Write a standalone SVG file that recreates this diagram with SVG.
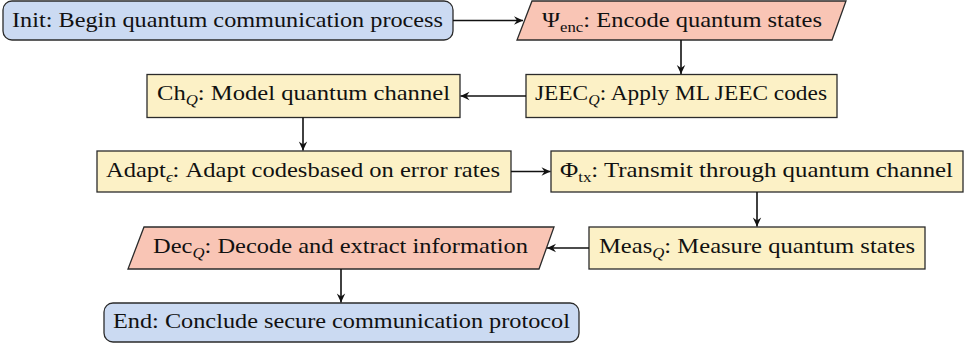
<svg xmlns="http://www.w3.org/2000/svg" width="967" height="347" viewBox="0 0 967 347">
<style>
.blue{fill:#cbdaf2;stroke:#2b2b2b;stroke-width:1.3}
.pink{fill:#f9c5b5;stroke:#2b2b2b;stroke-width:1.3}
.yel{fill:#fcf1c6;stroke:#2b2b2b;stroke-width:1.3}
text{font-family:'Liberation Serif','DejaVu Serif',serif;font-size:22px;fill:#111}
.sub{font-size:15px}
.it{font-style:italic}
.conn line{stroke:#111;stroke-width:1.6;marker-end:url(#arr)}
</style>
<defs>
<marker id="arr" markerWidth="12" markerHeight="10" viewBox="-10 -5 12 10" refX="0" refY="0" orient="auto" markerUnits="userSpaceOnUse">
<path d="M0,0 L-9,-4.2 L-6,0 L-9,4.2 Z" fill="#111"/>
</marker>
</defs>
<rect width="967" height="347" fill="#fff"/>
<g id="init">
<rect class="blue" x="3" y="1" width="450" height="39" rx="9"/>
<text font-family="Liberation Serif, serif" x="12" y="27" textLength="431" lengthAdjust="spacingAndGlyphs">Init: Begin quantum communication process</text>
</g>
<g id="psi">
<polygon class="pink" points="532,1 846,1 832,40 517,40"/>
<text font-family="Liberation Serif, serif" x="542" y="27" textLength="280" lengthAdjust="spacingAndGlyphs">Ψ<tspan class="sub" dy="5">enc</tspan><tspan dy="-5">: Encode quantum states</tspan></text>
</g>
<g id="jeec">
<rect class="yel" x="526" y="74.5" width="311" height="43"/>
<text font-family="Liberation Serif, serif" x="535" y="100" textLength="292" lengthAdjust="spacingAndGlyphs">JEEC<tspan class="sub it" dy="5">Q</tspan><tspan dy="-5">: Apply ML JEEC codes</tspan></text>
</g>
<g id="ch">
<rect class="yel" x="147" y="74.5" width="313" height="43"/>
<text font-family="Liberation Serif, serif" x="157" y="100" textLength="293" lengthAdjust="spacingAndGlyphs">Ch<tspan class="sub it" dy="5">Q</tspan><tspan dy="-5">: Model quantum channel</tspan></text>
</g>
<g id="adapt">
<rect class="yel" x="97" y="151" width="414" height="41"/>
<text font-family="Liberation Serif, serif" x="106" y="177" textLength="394" lengthAdjust="spacingAndGlyphs">Adapt<tspan class="sub it" dy="5">ϵ</tspan><tspan dy="-5">: Adapt codesbased on error rates</tspan></text>
</g>
<g id="phi">
<rect class="yel" x="551" y="151" width="412" height="41"/>
<text font-family="Liberation Serif, serif" x="560" y="177" textLength="393" lengthAdjust="spacingAndGlyphs">Φ<tspan class="sub" dy="5">tx</tspan><tspan dy="-5">: Transmit through quantum channel</tspan></text>
</g>
<g id="meas">
<rect class="yel" x="589" y="227" width="336" height="42"/>
<text font-family="Liberation Serif, serif" x="599" y="253" textLength="316" lengthAdjust="spacingAndGlyphs">Meas<tspan class="sub it" dy="5">Q</tspan><tspan dy="-5">: Measure quantum states</tspan></text>
</g>
<g id="dec">
<polygon class="pink" points="144,227 554,227 539,269 128,269"/>
<text font-family="Liberation Serif, serif" x="153" y="253" textLength="375" lengthAdjust="spacingAndGlyphs">Dec<tspan class="sub it" dy="5">Q</tspan><tspan dy="-5">: Decode and extract information</tspan></text>
</g>
<g id="end">
<rect class="blue" x="104" y="303" width="475" height="39" rx="9"/>
<text font-family="Liberation Serif, serif" x="113" y="328" textLength="457" lengthAdjust="spacingAndGlyphs">End: Conclude secure communication protocol</text>
</g>
<g id="connectors" class="conn">
<line x1="453" y1="20.5" x2="523" y2="20.5"/>
<line x1="681" y1="40" x2="681" y2="74"/>
<line x1="526" y1="96" x2="460.5" y2="96"/>
<line x1="303" y1="117.5" x2="303" y2="150.5"/>
<line x1="511" y1="171.5" x2="550.5" y2="171.5"/>
<line x1="757" y1="192" x2="757" y2="226.5"/>
<line x1="589" y1="248" x2="547" y2="248"/>
<line x1="341" y1="269" x2="341" y2="302.5"/>
</g>
</svg>
